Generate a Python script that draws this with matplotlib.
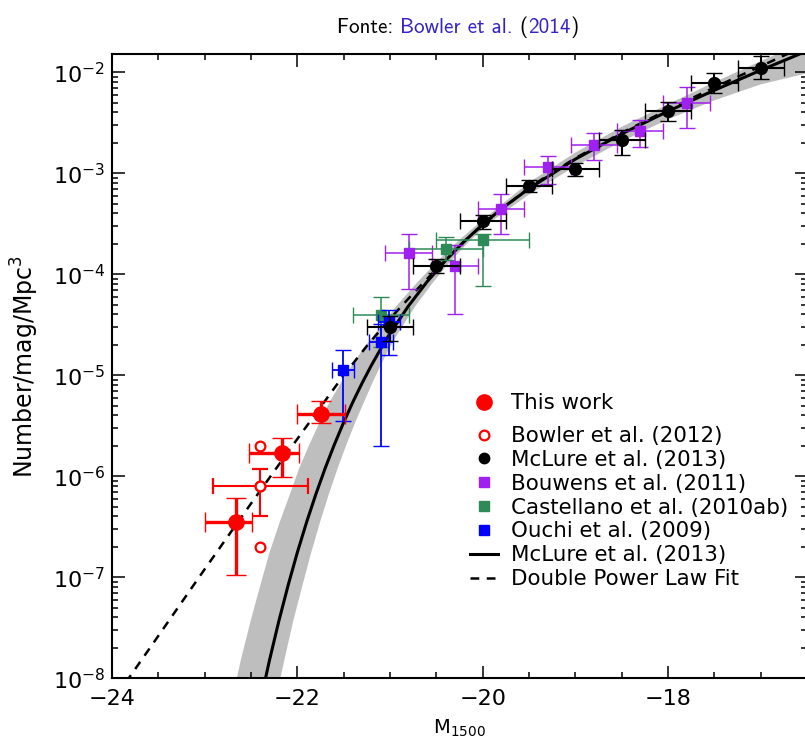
import numpy as np
import matplotlib
matplotlib.use("Agg")
import matplotlib.pyplot as plt
from matplotlib.lines import Line2D
from matplotlib.ticker import MultipleLocator, LogLocator, NullFormatter

# ---------------- data ----------------
# This work (red filled)
tw_M = [-22.66, -22.17, -21.75]
tw_phi = [3.5e-7, 1.7e-6, 4.1e-6]
tw_lo = [1.05e-7, 9.9e-7, 3.4e-6]
tw_hi = [6.1e-7, 2.4e-6, 5.6e-6]
tw_dM_lo = [0.34, 0.35, 0.25]
tw_dM_hi = [0.17, 0.19, 0.26]

# Bowler et al. (2012) (red open); only the middle one has error bars
b12_M = [-22.40, -22.40, -22.40]
b12_phi = [2.0e-6, 8.0e-7, 2.0e-7]
b12e_M = [-22.40]
b12e_phi = [8.0e-7]
b12e_lo = [4.05e-7]
b12e_hi = [1.18e-6]
b12e_dM = [0.51]

# McLure et al. (2013) (black)
mc_M = [-21.0, -20.5, -20.0, -19.5, -19.0, -18.5, -18.0, -17.5, -17.0]
mc_phi = [3.0e-5, 1.21e-4, 3.37e-4, 7.5e-4, 1.1e-3, 2.14e-3, 4.17e-3, 7.9e-3, 1.1e-2]
mc_lo = [2.2e-5, 1.02e-4, 2.79e-4, 6.6e-4, 9.3e-4, 1.52e-3, 3.32e-3, 6.2e-3, 8.5e-3]
mc_hi = [3.9e-5, 1.41e-4, 3.86e-4, 8.5e-4, 1.26e-3, 2.69e-3, 5.1e-3, 9.8e-3, 1.45e-2]
mc_dM = [0.25] * 9

# Bouwens et al. (2011) (purple)
bo_M = [-20.8, -20.3, -19.8, -19.3, -18.8, -18.3, -17.8]
bo_phi = [1.61e-4, 1.21e-4, 4.4e-4, 1.15e-3, 1.9e-3, 2.64e-3, 5.0e-3]
bo_lo = [7.1e-5, 4.05e-5, 2.5e-4, 7.8e-4, 1.35e-3, 1.8e-3, 2.8e-3]
bo_hi = [2.49e-4, 1.95e-4, 6.2e-4, 1.49e-3, 2.49e-3, 3.4e-3, 7.2e-3]
bo_dM = [0.25] * 7

# Castellano et al. (2010ab) (green)
ca_M = [-21.1, -20.4, -20.0]
ca_phi = [3.95e-5, 1.8e-4, 2.19e-4]
ca_lo = [1.9e-5, 1.38e-4, 7.6e-5]
ca_hi = [5.9e-5, 2.35e-4, 2.5e-4]
ca_dM = [0.30, 0.40, 0.50]

# Ouchi et al. (2009) (blue)
ou_M = [-21.51, -21.10, -21.01]
ou_phi = [1.13e-5, 2.12e-5, 3.4e-5]
ou_lo = [3.5e-6, 2.0e-6, 1.6e-5]
ou_hi = [1.77e-5, 3.2e-5, 4.4e-5]
ou_dM = [0.12, 0.13, 0.115]

# McLure et al. (2013) fit curve (log10 phi)
fit_M = [-22.45, -22.4, -22.3, -22.2, -22.1, -22.0, -21.9, -21.8, -21.7, -21.6,
         -21.5, -21.4, -21.3, -21.2, -21.1, -21.0, -20.8, -20.6, -20.4, -20.2,
         -20.0, -19.8, -19.5, -19.0, -18.5, -18.0, -17.5, -17.0, -16.5]
fit_logphi = [-8.46, -8.237, -7.819, -7.435, -7.081, -6.754, -6.454, -6.177, -5.921, -5.685,
              -5.466, -5.263, -5.075, -4.900, -4.738, -4.586, -4.313, -4.074, -3.863, -3.675,
              -3.507, -3.354, -3.151, -2.860, -2.610, -2.386, -2.178, -1.980, -1.789]

# grey uncertainty band edges (log10 phi)
band_hi_M = [-22.71, -22.61, -22.505, -22.40, -22.30, -22.19, -22.08, -21.98, -21.87, -21.76,
             -21.65, -21.53, -21.41, -21.29, -21.16, -20.93, -20.70, -20.48, -20.27, -20.06,
             -19.5, -19.0, -18.5, -18.0, -17.5, -17.0, -16.5]
band_hi_log = [-8.237, -7.819, -7.435, -7.081, -6.754, -6.454, -6.177, -5.921, -5.685, -5.466,
               -5.263, -5.075, -4.900, -4.738, -4.586, -4.313, -4.074, -3.863, -3.675, -3.507,
               -3.09, -2.795, -2.54, -2.316, -2.098, -1.89, -1.69]
band_lo_M = [-22.24, -22.14, -22.045, -21.945, -21.85, -21.755, -21.66, -21.565, -21.47, -21.375,
             -21.28, -21.19, -21.10, -21.01, -20.915, -20.725, -20.53, -20.34, -20.145, -19.95,
             -19.5, -19.0, -18.5, -18.0, -17.5, -17.0, -16.5]
band_lo_log = [-8.237, -7.819, -7.435, -7.081, -6.754, -6.454, -6.177, -5.921, -5.685, -5.466,
               -5.263, -5.075, -4.900, -4.738, -4.586, -4.313, -4.074, -3.863, -3.675, -3.507,
               -3.21, -2.93, -2.685, -2.466, -2.278, -2.12, -2.01]

# Double power law fit (log10 phi)
dpl_M = [-23.85, -23.5, -23.0, -22.5, -22.0, -21.75, -21.5, -21.25, -21.0, -20.75,
         -20.5, -20.25, -20.0, -19.5, -19.0, -18.5, -18.0, -17.5, -17.0, -16.5]
dpl_logphi = [-8.04, -7.58, -6.92, -6.27, -5.63, -5.315, -5.00, -4.71, -4.44, -4.19,
              -3.95, -3.72, -3.51, -3.14, -2.85, -2.60, -2.37, -2.15, -1.94, -1.73]

legend_labels = ["This work", "Bowler et al. (2012)", "McLure et al. (2013)",
                 "Bouwens et al. (2011)", "Castellano et al. (2010ab)",
                 "Ouchi et al. (2009)", "McLure et al. (2013)", "Double Power Law Fit"]

title_parts = ["Fonte: ", "Bowler et al.", " (", "2014", ")"]

RED = "#ff0000"
PURPLE = "#a020f0"
GREEN = "#2e8b57"
BLUE = "#0000ff"
GREY = "#bebebe"
LINK = "#3424c4"
title_colors = ["k", LINK, "k", LINK, "k"]

# ---------------- figure ----------------
plt.rcParams["font.family"] = ["DejaVu Sans"]
fig = plt.figure(figsize=(8.05, 7.47), dpi=100)
ax = fig.add_axes([112 / 805, (747 - 678.3) / 747, 695 / 805, 624 / 747])
ax.set_yscale("log")
ax.set_xlim(-24, -16.5)
ax.set_ylim(1e-8, 10 ** -1.822)

# band
poly_M = np.r_[band_hi_M, band_lo_M[::-1]]
poly_phi = 10 ** np.r_[band_hi_log, band_lo_log[::-1]]
ax.fill(poly_M, poly_phi, color=GREY, lw=0, zorder=1)

# curves
ax.plot(fit_M, 10 ** np.array(fit_logphi), color="k", lw=2.2, zorder=2)
ax.plot(dpl_M, 10 ** np.array(dpl_logphi), color="k", lw=1.8, ls=(0, (3.5, 3)), zorder=2)


def eb(M, phi, lo, hi, dml, dmh, color, marker, ms, lw, cs, z, mfc=None, mew=1.0):
    phi = np.array(phi)
    ax.errorbar(M, phi, yerr=[phi - np.array(lo), np.array(hi) - phi],
                xerr=[dml, dmh], fmt=marker, color=color, ms=ms,
                elinewidth=lw, capsize=cs, capthick=lw,
                mfc=(mfc if mfc is not None else color), mec=color, mew=mew, zorder=z)


eb(bo_M, bo_phi, bo_lo, bo_hi, bo_dM, bo_dM, PURPLE, "s", 7.5, 1.1, 5.5, 3)
eb(ca_M, ca_phi, ca_lo, ca_hi, ca_dM, ca_dM, GREEN, "s", 7.5, 1.1, 5.5, 3)
eb(ou_M, ou_phi, ou_lo, ou_hi, ou_dM, ou_dM, BLUE, "s", 7.5, 1.3, 5.5, 4)
eb(mc_M, mc_phi, mc_lo, mc_hi, mc_dM, mc_dM, "k", "o", 8.5, 1.5, 6, 5)
eb(b12e_M, b12e_phi, b12e_lo, b12e_hi, b12e_dM, b12e_dM, RED, "o", 7.0, 1.5, 6, 6,
   mfc="white", mew=1.6)
ax.plot(b12_M, b12_phi, ls="none", marker="o", ms=7.0, mfc="white", mec=RED, mew=1.6, zorder=6)
eb(tw_M, tw_phi, tw_lo, tw_hi, tw_dM_lo, tw_dM_hi, RED, "o", 11, 2.4, 7, 7)

# ticks
ax.xaxis.set_major_locator(MultipleLocator(2))
ax.xaxis.set_minor_locator(MultipleLocator(0.5))
ax.yaxis.set_major_locator(LogLocator(base=10, numticks=20))
ax.yaxis.set_minor_locator(LogLocator(base=10, subs=np.arange(2, 10), numticks=20))
ax.yaxis.set_minor_formatter(NullFormatter())
ax.tick_params(which="both", direction="in", top=True, right=True, width=1.1)
ax.tick_params(which="major", length=9)
ax.tick_params(which="minor", length=4.5)
ax.tick_params(axis="x", which="major", labelsize=16, pad=8)
ax.tick_params(axis="y", which="major", labelsize=16, pad=5)
for s in ax.spines.values():
    s.set_linewidth(1.5)

ax.set_xlabel("M$_{1500}$", fontsize=14, labelpad=6)
ax.set_ylabel("Number/mag/Mpc$^3$", fontsize=17, labelpad=8)

# legends
leg_kw = dict(frameon=False, fontsize=15.4, handlelength=1.3, handletextpad=0.6,
              labelspacing=0.18, borderpad=0, borderaxespad=0, loc="upper left",
              bbox_transform=fig.transFigure)
h1 = [Line2D([], [], ls="none", marker="o", color=RED, ms=11)]
leg1 = ax.legend(h1, legend_labels[:1], bbox_to_anchor=(470 / 805, 1 - 393 / 747), **leg_kw)
ax.add_artist(leg1)
h2 = [
    Line2D([], [], ls="none", marker="o", mfc="white", mec=RED, mew=1.6, ms=7),
    Line2D([], [], ls="none", marker="o", color="k", ms=7.5),
    Line2D([], [], ls="none", marker="s", color=PURPLE, ms=7),
    Line2D([], [], ls="none", marker="s", color=GREEN, ms=7),
    Line2D([], [], ls="none", marker="s", color=BLUE, ms=7),
    Line2D([], [], color="k", lw=2.2),
    Line2D([], [], color="k", lw=1.8, ls=(0, (3.5, 3))),
]
ax.legend(h2, legend_labels[1:], bbox_to_anchor=(470 / 805, 1 - 426 / 747), **leg_kw)

# title with coloured parts (Computer Modern Sans, bundled with matplotlib),
# all pieces on one common baseline
TFONT = ["cmss10", "DejaVu Sans"]
renderer = fig.canvas.get_renderer()
x_px = 337.0
base_y = 1 - 33 / 747
for txt, col in zip(title_parts, title_colors):
    t = fig.text(x_px / 805, base_y, txt, fontsize=15.2, family=TFONT, color=col,
                 va="baseline", ha="left")
    x_px += t.get_window_extent(renderer).width

fig.savefig("out.png", dpi=100)
